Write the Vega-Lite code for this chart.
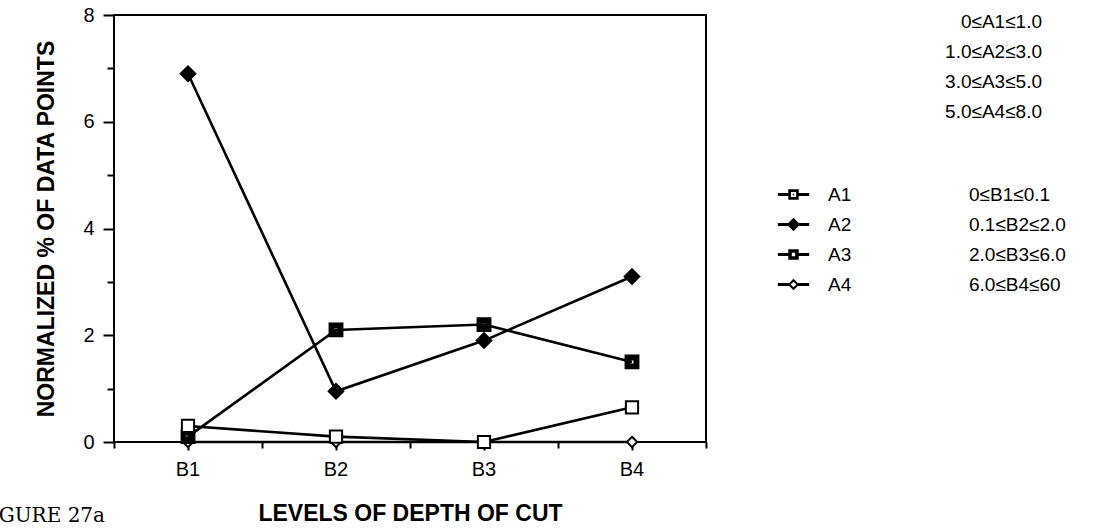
{
  "$schema": "https://vega.github.io/schema/vega-lite/v6.json",
  "width": 592,
  "height": 427,
  "autosize": {"type": "none"},
  "padding": {"left": 114, "top": 15, "right": 389, "bottom": 87},
  "background": "white",
  "config": {
    "view": {"stroke": "black", "strokeWidth": 2},
    "font": "Liberation Sans",
    "axis": {"grid": false, "domain": false, "tickColor": "black", "tickWidth": 2, "labelColor": "black", "titleColor": "black", "labelFont": "Liberation Sans", "titleFont": "Liberation Sans"},
    "legend": {"labelFont": "Liberation Sans", "labelColor": "black", "labelFontSize": 19, "rowPadding": 10, "padding": 0}
  },
  "title": {"text": "FIGURE 27a", "orient": "bottom", "anchor": "start", "frame": "group", "font": "DejaVu Serif", "fontSize": 20, "fontWeight": "normal", "color": "black", "dx": -137, "dy": -23},
  "data": {
    "values": [
      {"series": "A4", "level": "B1", "value": 0, "a_range": "5.0≤A4≤8.0", "b_range": "0≤B1≤0.1"},
      {"series": "A4", "level": "B2", "value": 0, "a_range": "5.0≤A4≤8.0", "b_range": "0.1≤B2≤2.0"},
      {"series": "A4", "level": "B3", "value": 0, "a_range": "5.0≤A4≤8.0", "b_range": "2.0≤B3≤6.0"},
      {"series": "A4", "level": "B4", "value": 0, "a_range": "5.0≤A4≤8.0", "b_range": "6.0≤B4≤60"},
      {"series": "A3", "level": "B1", "value": 0.1, "a_range": "3.0≤A3≤5.0", "b_range": "0≤B1≤0.1"},
      {"series": "A3", "level": "B2", "value": 2.1, "a_range": "3.0≤A3≤5.0", "b_range": "0.1≤B2≤2.0"},
      {"series": "A3", "level": "B3", "value": 2.2, "a_range": "3.0≤A3≤5.0", "b_range": "2.0≤B3≤6.0"},
      {"series": "A3", "level": "B4", "value": 1.5, "a_range": "3.0≤A3≤5.0", "b_range": "6.0≤B4≤60"},
      {"series": "A2", "level": "B1", "value": 6.9, "a_range": "1.0≤A2≤3.0", "b_range": "0≤B1≤0.1"},
      {"series": "A2", "level": "B2", "value": 0.95, "a_range": "1.0≤A2≤3.0", "b_range": "0.1≤B2≤2.0"},
      {"series": "A2", "level": "B3", "value": 1.9, "a_range": "1.0≤A2≤3.0", "b_range": "2.0≤B3≤6.0"},
      {"series": "A2", "level": "B4", "value": 3.1, "a_range": "1.0≤A2≤3.0", "b_range": "6.0≤B4≤60"},
      {"series": "A1", "level": "B1", "value": 0.3, "a_range": "0≤A1≤1.0", "b_range": "0≤B1≤0.1"},
      {"series": "A1", "level": "B2", "value": 0.1, "a_range": "0≤A1≤1.0", "b_range": "0.1≤B2≤2.0"},
      {"series": "A1", "level": "B3", "value": 0.0, "a_range": "0≤A1≤1.0", "b_range": "2.0≤B3≤6.0"},
      {"series": "A1", "level": "B4", "value": 0.65, "a_range": "0≤A1≤1.0", "b_range": "6.0≤B4≤60"}
    ]
  },
  "layer": [
    {
      "mark": {"type": "line", "color": "black", "strokeWidth": 2.6},
      "encoding": {
        "x": {"field": "level", "type": "nominal", "scale": {"type": "band", "domain": ["B1", "B2", "B3", "B4"], "paddingInner": 0, "paddingOuter": 0},
              "axis": {"orient": "bottom", "labelAngle": 0, "tickSize": 8, "labelFontSize": 20, "labelPadding": 9, "title": "LEVELS OF DEPTH OF CUT", "titleFontSize": 23, "titleFontWeight": "bold", "titlePadding": 23}},
        "y": {"field": "value", "type": "quantitative", "scale": {"domain": [0, 8], "nice": false, "zero": true},
              "axis": {"orient": "left", "values": [0, 2, 4, 6, 8], "tickSize": 11, "labelFontSize": 20, "labelPadding": 9, "title": "NORMALIZED % OF DATA POINTS", "titleFontSize": 23, "titleFontWeight": "bold", "titlePadding": 24}},
        "detail": {"field": "series", "type": "nominal"}
      }
    },
    {
      "mark": {"type": "point", "filled": true, "stroke": "black", "strokeWidth": 2, "size": 150},
      "encoding": {
        "x": {"field": "level", "type": "nominal",
              "axis": {"orient": "bottom", "tickBand": "extent", "tickSize": 6, "labels": false, "title": null}},
        "y": {"field": "value", "type": "quantitative",
              "axis": {"orient": "left", "values": [1, 3, 5, 7], "tickSize": 7, "labels": false, "title": null}},
        "shape": {"field": "series", "type": "nominal", "legend": null,
                  "scale": {"domain": ["A1", "A2", "A3", "A4"], "range": ["M-1,-1H1V1H-1Z", "M0,-1.2L1.2,0L0,1.2L-1.2,0Z", "M-1.05,-1.05H1.05V1.05H-1.05Z M-0.4,-0.4V0.4H0.4V-0.4Z", "M0,-0.85L0.85,0L0,0.85L-0.85,0Z"]}},
        "fill": {"field": "series", "type": "nominal", "legend": null, "scale": {"domain": ["A1", "A2", "A3", "A4"], "range": ["white", "black", "black", "white"]}},
        "opacity": {"field": "a_range", "type": "ordinal",
                    "scale": {"domain": ["0≤A1≤1.0", "1.0≤A2≤3.0", "3.0≤A3≤5.0", "5.0≤A4≤8.0"], "range": [1, 1]},
                    "legend": {"orient": "none", "legendX": 909, "legendY": -3, "title": null, "symbolSize": 0.01, "symbolOpacity": 0, "symbolFillColor": "transparent", "symbolStrokeColor": "transparent", "symbolStrokeWidth": 0, "labelOffset": 0, "labelAlign": "right"}},
        "strokeWidth": {"field": "b_range", "type": "ordinal",
                        "scale": {"domain": ["0≤B1≤0.1", "0.1≤B2≤2.0", "2.0≤B3≤6.0", "6.0≤B4≤60"], "range": [2, 2]},
                        "legend": {"orient": "none", "legendX": 836, "legendY": 170, "title": null, "symbolSize": 0.01, "symbolOpacity": 0, "symbolFillColor": "transparent", "symbolStrokeColor": "transparent", "labelOffset": 0}}
      }
    },
    {
      "mark": {"type": "point", "filled": true, "color": "black", "opacity": 0, "size": 90},
      "encoding": {
        "x": {"field": "level", "type": "nominal", "axis": null},
        "y": {"field": "value", "type": "quantitative", "axis": null},
        "shape": {"field": "series", "type": "nominal",
                  "scale": {"domain": ["A1", "A2", "A3", "A4"], "range": [
                    "M-3.3,-0.3H-1.1V0.3H-3.3Z M1.1,-0.3H3.3V0.3H1.1Z M-1.1,-1.1H1.1V1.1H-1.1Z M-0.55,-0.55V0.55H0.55V-0.55Z M-0.15,-0.15H0.15V0.15H-0.15Z",
                    "M-3.3,-0.3H-1.1V0.3H-3.3Z M1.1,-0.3H3.3V0.3H1.1Z M0,-1.4L1.4,0L0,1.4L-1.4,0Z",
                    "M-3.3,-0.3H-1.1V0.3H-3.3Z M1.1,-0.3H3.3V0.3H1.1Z M-1.1,-1.1H1.1V1.1H-1.1Z M-0.35,-0.35V0.35H0.35V-0.35Z",
                    "M-3.3,-0.3H-0.9V0.3H-3.3Z M0.9,-0.3H3.3V0.3H0.9Z M0,-1.2L1.2,0L0,1.2L-1.2,0Z M0,-0.6L-0.6,0L0,0.6L0.6,0Z"]},
                  "legend": {"orient": "none", "legendX": 670, "legendY": 170, "title": null, "symbolSize": 90, "labelOffset": 25, "symbolOpacity": 1, "symbolFillColor": "black", "symbolStrokeWidth": 0}}
      }
    }
  ],
  "resolve": {"scale": {"shape": "independent"}, "legend": {"shape": "independent"}, "axis": {"x": "independent", "y": "independent"}}
}
